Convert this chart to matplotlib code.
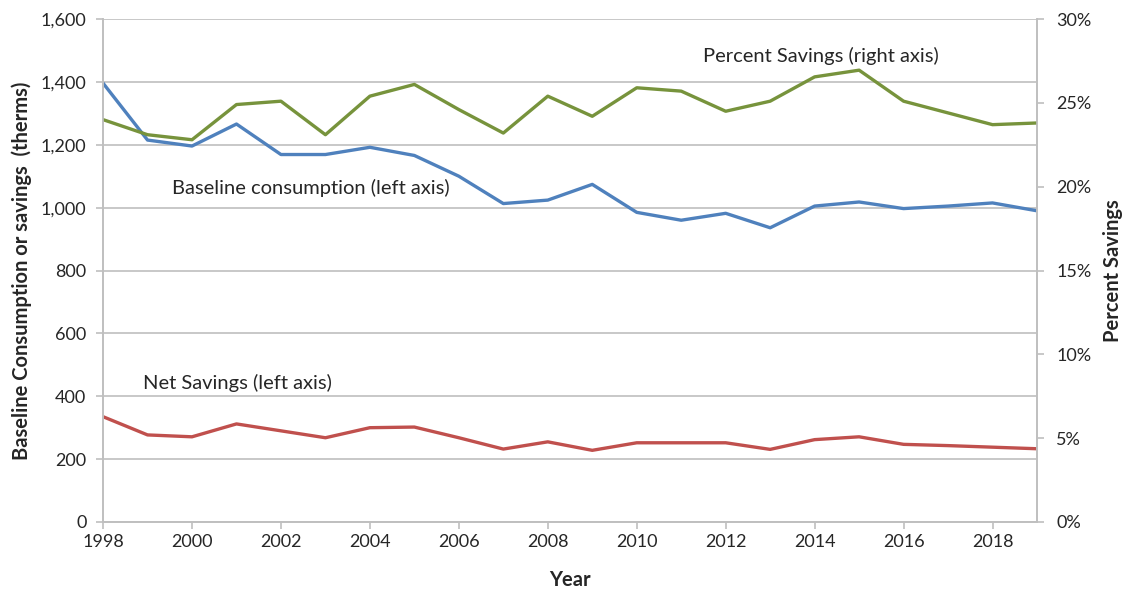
import matplotlib
matplotlib.use("Agg")
import matplotlib.pyplot as plt
from matplotlib.ticker import FuncFormatter, MultipleLocator

plt.rcParams['font.family'] = ['Lato', 'DejaVu Sans']

years = list(range(1998, 2020))
baseline = [1396, 1215, 1196, 1266, 1169, 1169, 1192, 1166, 1100, 1013, 1024,
            1074, 985, 960, 982, 936, 1005, 1018, 997, 1005, 1015, 990]
net_savings = [335, 277, 271, 312, 290, 268, 300, 302, 268, 232, 255,
               228, 252, 252, 252, 231, 262, 271, 247, 243, 238, 233]
pct_savings = [24.0, 23.1, 22.8, 24.9, 25.1, 23.1, 25.4, 26.1, 24.6, 23.2, 25.4,
               24.2, 25.9, 25.7, 24.5, 25.1, 26.55, 26.95, 25.1, 24.4, 23.7, 23.8]

BLUE = '#4F81BD'
RED = '#C0504D'
GREEN = '#77933C'
GRID = '#BFBFBF'
TXT = '#262626'

fig = plt.figure(figsize=(11.3, 5.95), dpi=100)
ax = fig.add_axes([0.0912, 0.1227, 0.8265, 0.8453])
ax2 = ax.twinx()

ax.plot(years, baseline, color=BLUE, lw=2.4, solid_joinstyle='round')
ax.plot(years, net_savings, color=RED, lw=2.4, solid_joinstyle='round')
ax2.plot(years, pct_savings, color=GREEN, lw=2.4, solid_joinstyle='round')

ax.set_xlim(1998, 2019)
ax.set_ylim(0, 1600)
ax2.set_ylim(0, 30)
ax.xaxis.set_major_locator(MultipleLocator(2))
ax.yaxis.set_major_locator(MultipleLocator(200))
ax2.yaxis.set_major_locator(MultipleLocator(5))
ax.yaxis.set_major_formatter(FuncFormatter(lambda v, p: f'{int(v):,}'))
ax2.yaxis.set_major_formatter(FuncFormatter(lambda v, p: f'{int(v)}%'))

ax.grid(axis='y', color=GRID, lw=1.2)
ax.set_axisbelow(True)
for a in (ax, ax2):
    a.spines['top'].set_visible(False)
    for s in ('left', 'right', 'bottom'):
        a.spines[s].set_color(GRID)
        a.spines[s].set_linewidth(1.2)
    a.tick_params(colors=GRID, labelcolor=TXT, labelsize=13, length=5, width=1.2)
ax.tick_params(axis='y', pad=7)
ax2.tick_params(axis='y', pad=9)
ax.tick_params(axis='x', pad=4)

ax.set_xlabel('Year', fontsize=14.5, fontweight='bold', color=TXT, labelpad=14)
ax.set_ylabel('Baseline Consumption or savings  (therms)', fontsize=14.5,
              fontweight='bold', color=TXT, labelpad=6)
ax2.set_ylabel('Percent Savings', fontsize=14.5, fontweight='bold', color=TXT,
               labelpad=8)

ax.text(1999.55, 1062, 'Baseline consumption (left axis)', fontsize=14.5,
        color=TXT, ha='left', va='center')
ax.text(1998.9, 442, 'Net Savings (left axis)', fontsize=14.5, color=TXT,
        ha='left', va='center')
ax2.text(2014.15, 27.8, 'Percent Savings (right axis)', fontsize=14.5,
         color=TXT, ha='center', va='center')

fig.savefig('out.png', dpi=100, facecolor='white')
